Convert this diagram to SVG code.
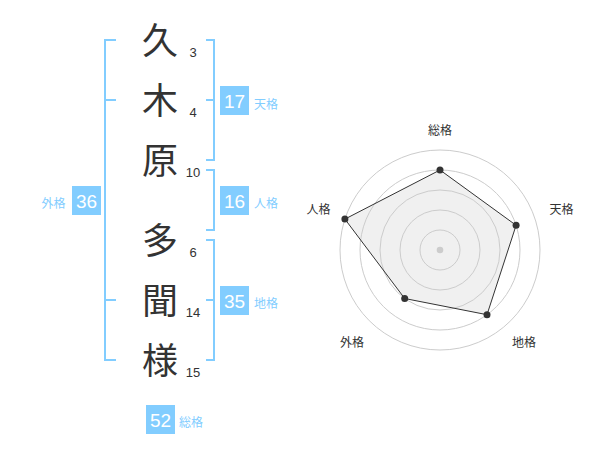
<svg xmlns="http://www.w3.org/2000/svg" width="600" height="470" viewBox="0 0 600 470">
<style>
.kanji{font-family:"Noto Sans CJK JP","Noto Sans CJK SC",sans-serif;font-size:36px;fill:#333;text-anchor:middle}
.num{font-family:"Liberation Sans",Arial,sans-serif;font-size:13px;fill:#333;text-anchor:middle}
.br{fill:none;stroke:#82cdff;stroke-width:2}
.box{fill:#82cdff}
.bnum{font-family:"Liberation Sans",Arial,sans-serif;font-size:19px;fill:#fff;text-anchor:middle}
.blab{font-family:"Noto Sans CJK JP","Noto Sans CJK SC",sans-serif;font-size:12px;fill:#82cdff}
.rlab{font-family:"Noto Sans CJK JP","Noto Sans CJK SC",sans-serif;font-size:12px;fill:#333;text-anchor:middle}
.ring{fill:none;stroke:#cccccc;stroke-width:1}
.dot{fill:#333}
</style>
<rect width="600" height="470" fill="#fff"/>
<g id="name">
<text class="kanji" x="160" y="54">久</text>
<text class="kanji" x="160" y="114">木</text>
<text class="kanji" x="160" y="174">原</text>
<text class="kanji" x="160" y="254">多</text>
<text class="kanji" x="160" y="314">聞</text>
<text class="kanji" x="160" y="374">様</text>
</g>
<g id="strokes">
<text class="num" x="193" y="57">3</text>
<text class="num" x="193" y="117">4</text>
<text class="num" x="193" y="177">10</text>
<text class="num" x="193" y="257">6</text>
<text class="num" x="193" y="317">14</text>
<text class="num" x="193" y="377">15</text>
</g>
<g id="connectors">
<path class="br" d="M116,40 H105 V360 H116 M105,100 H116 M105,300 H116"/>
<path class="br" d="M206,40 H214 V160 H206 M206,100 H214"/>
<path class="br" d="M206,170 H214 V230 H206"/>
<path class="br" d="M206,240 H214 V360 H206 M206,300 H214"/>
</g>
<g id="tenkaku">
<rect class="box" x="220" y="86" width="29" height="29"/>
<text class="bnum" x="234.5" y="107.5">17</text>
<text class="blab" x="254" y="108.5">天格</text>
</g>
<g id="jinkaku">
<rect class="box" x="220" y="186" width="29" height="29"/>
<text class="bnum" x="234.5" y="207.5">16</text>
<text class="blab" x="254" y="207.5">人格</text>
</g>
<g id="chikaku">
<rect class="box" x="220" y="286" width="29" height="29"/>
<text class="bnum" x="234.5" y="307.5">35</text>
<text class="blab" x="254" y="307.5">地格</text>
</g>
<g id="gaikaku">
<rect class="box" x="72" y="186" width="29" height="29"/>
<text class="bnum" x="86.5" y="207.5">36</text>
<text class="blab" x="41.5" y="207.5">外格</text>
</g>
<g id="soukaku">
<rect class="box" x="146" y="405" width="29" height="29"/>
<text class="bnum" x="160.5" y="426.5">52</text>
<text class="blab" x="179" y="426.5">総格</text>
</g>
<g id="radar">
<polygon points="440,170 516.1,225.3 487,314.7 404.7,298.5 344.9,219.1" fill="#f0f0f0" stroke="none"/>
<circle class="ring" cx="440" cy="250" r="100"/>
<circle class="ring" cx="440" cy="250" r="80"/>
<circle class="ring" cx="440" cy="250" r="60"/>
<circle class="ring" cx="440" cy="250" r="40"/>
<circle class="ring" cx="440" cy="250" r="20"/>
<polygon points="440,170 516.1,225.3 487,314.7 404.7,298.5 344.9,219.1" fill="none" stroke="#333" stroke-width="1"/>
<circle cx="440" cy="250" r="3.3" fill="#ccc"/>
<circle class="dot" cx="440" cy="170" r="3.5"/>
<circle class="dot" cx="516.1" cy="225.3" r="3.5"/>
<circle class="dot" cx="487" cy="314.7" r="3.5"/>
<circle class="dot" cx="404.7" cy="298.5" r="3.5"/>
<circle class="dot" cx="344.9" cy="219.1" r="3.5"/>
<text class="rlab" x="440" y="134.5">総格</text>
<text class="rlab" x="561.5" y="213.5">天格</text>
<text class="rlab" x="524" y="346.5">地格</text>
<text class="rlab" x="352" y="346.5">外格</text>
<text class="rlab" x="318.5" y="213.5">人格</text>
</g>
</svg>
